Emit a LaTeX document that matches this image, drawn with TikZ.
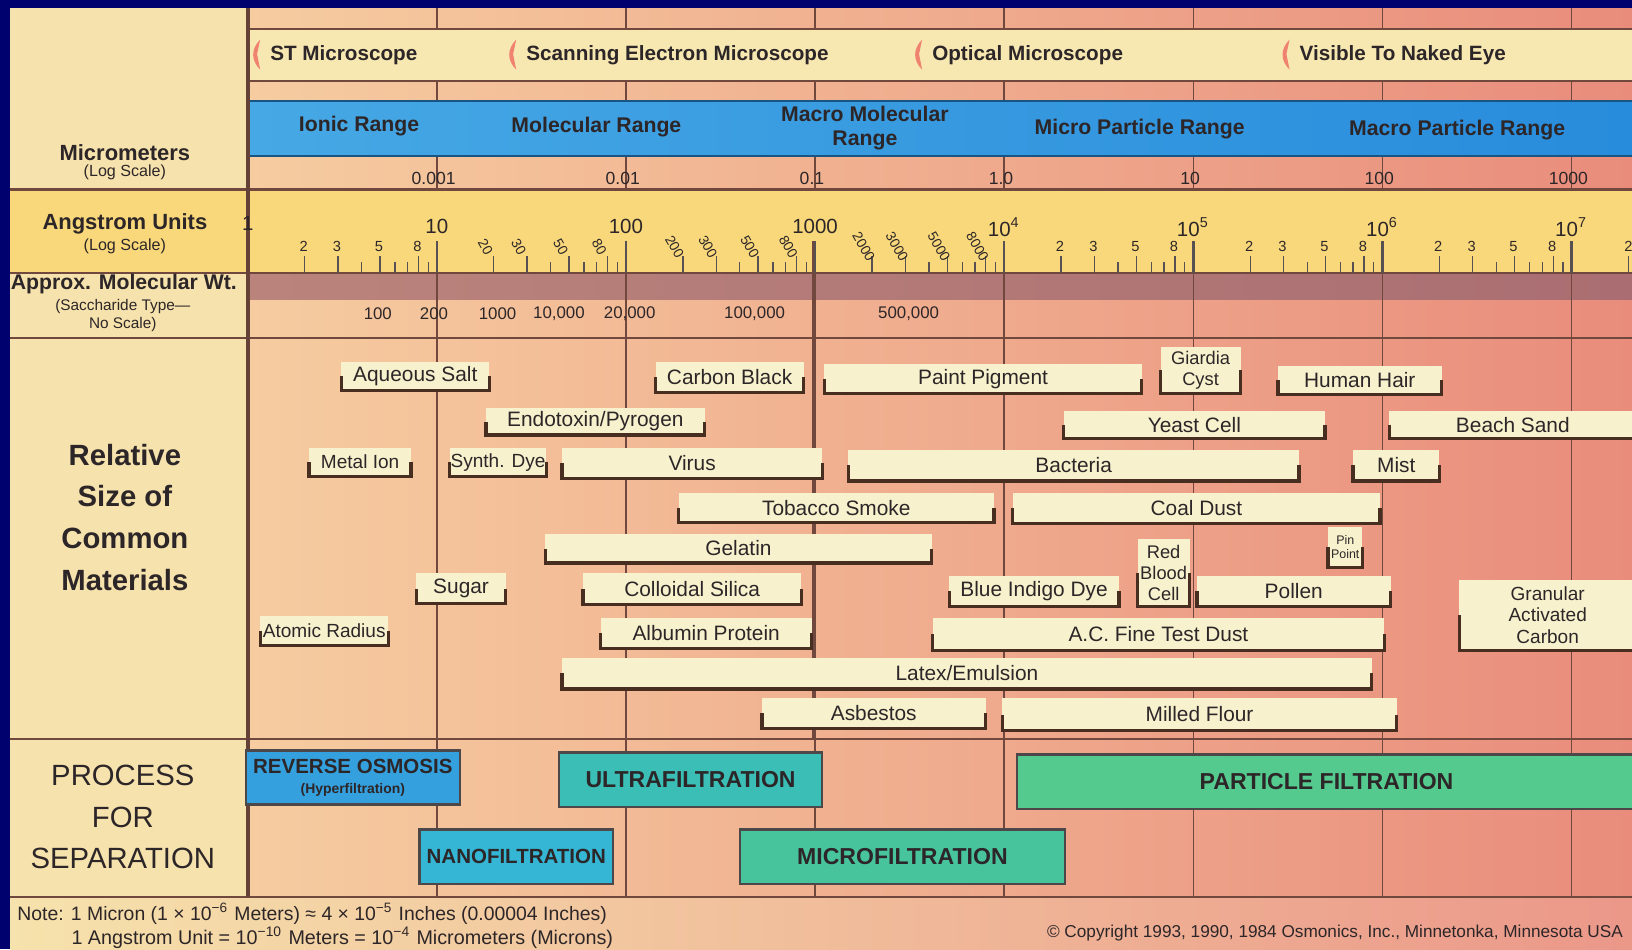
\documentclass[tikz,border=0pt]{standalone}
\usepackage{fontspec}
\setmainfont{Liberation Sans}
\usetikzlibrary{calc}

\definecolor{navyframe}{RGB}{0,0,110}
\definecolor{labelcol}{RGB}{246,226,172}
\definecolor{scopeband}{RGB}{247,232,178}
\definecolor{angrow}{RGB}{248,216,122}
\definecolor{chartleft}{RGB}{246,204,160}
\definecolor{chartright}{RGB}{233,140,124}
\definecolor{mauveleft}{RGB}{186,132,124}
\definecolor{mauveright}{RGB}{170,110,114}
\definecolor{bandleft}{RGB}{70,168,228}
\definecolor{bandright}{RGB}{40,140,220}
\definecolor{gridcol}{RGB}{112,72,62}
\definecolor{cream}{RGB}{247,242,205}
\definecolor{bracketcol}{RGB}{72,46,32}
\definecolor{inkcol}{RGB}{45,38,40}
\definecolor{scopemark}{RGB}{240,130,112}
\definecolor{rocol}{RGB}{52,160,222}
\definecolor{ufcol}{RGB}{58,190,182}
\definecolor{pfcol}{RGB}{84,202,142}
\definecolor{nfcol}{RGB}{52,182,212}
\definecolor{mfcol}{RGB}{72,196,156}

\newcommand{\fsz}[1]{\fontsize{#1}{\fpeval{1.15*#1}}\selectfont}

\tikzset{
  grid/.style={draw=gridcol, line width=0.4pt},
  rule/.style={draw=gridcol, line width=0.6pt},
  tick/.style={draw=inkcol!80, line width=0.35pt},
  bracket/.style={draw=bracketcol, line width=0.9pt},
  mattext/.style={text=inkcol, align=center, inner sep=0pt},
  sidetext/.style={text=inkcol, align=center, inner sep=0pt},
  scopetext/.style={text=inkcol, font=\bfseries\fsz{5.65}, anchor=west, inner sep=0pt},
  rangetext/.style={text=inkcol, font=\bfseries\fsz{5.8}, align=center, inner sep=0pt},
  scaletext/.style={text=inkcol, font=\fsz{4.8}, inner sep=0pt},
  proctext/.style={text=inkcol, align=center, inner sep=0pt},
  procline/.style={draw=inkcol!85, line width=0.6pt},
}

% material box: [font size] name, x1, y1, x2, y2, text
\newcommand{\matbox}[7][5.7]{%
  \fill[cream] (#3,#4) rectangle (#5,#6);
  \draw[bracket] (#3,{(#4+#6)/2}) -- (#3,#6) -- (#5,#6) -- (#5,{(#4+#6)/2});
  \node[mattext, font=\fsz{#1}] (#2) at ({(#3+#5)/2},{(#4+#6)/2}) {#7};}

% process box: [font size] name, x1, y1, x2, y2, colour, text
\newcommand{\procbox}[8][6.3]{%
  \draw[procline, fill=#7] (#3,#4) rectangle (#5,#6);
  \node[proctext, font=\bfseries\fsz{#1}] (#2) at ({(#3+#5)/2},{(#4+#6)/2}) {#8};}

\begin{document}
\begin{tikzpicture}[x=0.01cm, y=-0.01cm]
  %%%%% BACKGROUND %%%%%
  \useasboundingbox (0,0) rectangle (1568,912);
  \fill[navyframe] (0,0) rectangle (1568,912);
  \fill[labelcol] (10,8) rectangle (238,862);
  \shade[left color=chartleft, right color=chartright] (238,8) rectangle (1568,862);
  \shade[left color=labelcol, right color=chartright!90!white] (10,862) rectangle (1568,912);
  \fill[angrow] (10,182) rectangle (1568,262);
  \shade[left color=mauveleft, right color=mauveright] (238,262) rectangle (1568,288);

  %%%%% DECADE LINES %%%%%
  \foreach \d in {1,...,7}{
    \pgfmathsetmacro\xd{238+181.7*\d}
    \draw[grid] (\xd,8) -- (\xd,28);
    \draw[grid] (\xd,78) -- (\xd,97);
    \draw[grid] (\xd,150) -- (\xd,182);
    \draw[grid] (\xd,262) -- (\xd,862);
  }
  \draw[draw=gridcol, line width=1pt] (782,232) -- (782,710);

  %%%%% BANDS %%%%%
  \fill[scopeband] (238,28) rectangle (1568,78);
  \draw[rule] (238,28) -- (1568,28);
  \draw[rule] (238,78) -- (1568,78);
  \shade[left color=bandleft, right color=bandright] (238,97) rectangle (1568,150);
  \draw[draw=bandright!60!black, line width=0.6pt] (238,97) -- (1568,97);
  \draw[draw=bandright!60!black, line width=0.6pt] (238,150) -- (1568,150);

  \foreach \y in {182,262,325,710,862}
    \draw[rule] (10,\y) -- (1568,\y);
  \draw[draw=gridcol!90!black, line width=1pt] (238,8) -- (238,862);

  %%%%% MICROSCOPES %%%%%
  \foreach \x/\txt [count=\i] in {244/ST Microscope, 490/Scanning Electron Microscope,
      880/Optical Microscope, 1233/Visible To Naked Eye}{
    \fill[scopemark] (\x+6,38) .. controls (\x-3,47) and (\x-3,58) .. (\x+6,67) -- (\x+3,52) -- cycle;
    \node[scopetext] (scope\i) at (\x+15,53) {\txt};
  }

  %%%%% RANGES %%%%%
  \node[rangetext] (ionic) at (345,121) {Ionic Range};
  \node[rangetext] (molec) at (573,122) {Molecular Range};
  \node[rangetext] (macromol) at (831,123) {Macro Molecular\\Range};
  \node[rangetext] (microp) at (1095,124) {Micro Particle Range};
  \node[rangetext] (macrop) at (1400,125) {Macro Particle Range};

  %%%%% MICROMETERS %%%%%
  \foreach \d/\txt in {1/0.001,2/0.01,3/0.1,4/1.0,5/10,6/100,7/1000}{
    \pgfmathsetmacro\xd{238+181.7*\d}
    \node[scaletext] (um\d) at (\xd-3,171) {\txt};
  }

  %%%%% ANGSTROM TICKS %%%%%
  \foreach \d in {0,...,6}{
    \foreach \m in {2,...,9}{
      \pgfmathsetmacro\xt{238+181.7*(\d+log10(\m))}
      \draw[tick] (\xt,252) -- (\xt,262);
    }
    \foreach \m in {2,3,5,8}{
      \pgfmathsetmacro\xt{238+181.7*(\d+log10(\m))}
      \draw[tick] (\xt,246) -- (\xt,262);
    }
  }
  \draw[tick] (1564.7,246) -- (1564.7,262);
  \foreach \d/\txt in {1/10,2/100,3/1000,4/{10\textsuperscript{4}},5/{10\textsuperscript{5}},
      6/{10\textsuperscript{6}},7/{10\textsuperscript{7}}}{
    \pgfmathsetmacro\xd{238+181.7*\d}
    \draw[draw=inkcol!80, line width=0.7pt] (\xd,232) -- (\xd,262);
    \node[scaletext, font=\fsz{5.6}] (ang\d) at (\xd,218) {\txt};
  }
  \node[scaletext, font=\fsz{5.6}] (ang0) at (238,215) {1};
  \foreach \d in {0,4,5,6}{
    \foreach \m in {2,3,5,8}{
      \pgfmathsetmacro\xt{238+181.7*(\d+log10(\m))}
      \node[scaletext, font=\fsz{4}] (lab\d\m) at (\xt-1,237) {\m};
    }
  }
  \node[scaletext, font=\fsz{4}] (lab72) at (1564.7,237) {2};
  \foreach \d/\z in {1/0,2/00,3/000}{
    \foreach \m in {2,3,5,8}{
      \pgfmathsetmacro\xt{238+181.7*(\d+log10(\m))}
      \node[scaletext, font=\fsz{3.8}, rotate=-60] (lab\d\m) at (\xt-8,237) {\m\z};
    }
  }

  %%%%% MOLECULAR WEIGHT %%%%%
  \foreach \x/\txt [count=\i] in {363/100,417/200,478/1000,537/{10,000},605/{20,000},
      725/{100,000},873/{500,000}}
    \node[scaletext, font=\fsz{4.6}] (mw\i) at (\x,301) {\txt};

  %%%%% SIDE LABELS %%%%%
  \node[sidetext, font=\bfseries\fsz{6}] (umlab) at (120,147) {Micrometers};
  \node[sidetext, font=\fsz{4.4}] (umlog) at (120,166) {(Log Scale)};
  \node[sidetext, font=\bfseries\fsz{6}] (anglab) at (120,215) {Angstrom Units};
  \node[sidetext, font=\fsz{4.4}] (anglog) at (120,237) {(Log Scale)};
  \node[sidetext, font=\bfseries\fsz{5.8}] (mwlab) at (119,273) {Approx. Molecular Wt.};
  \node[sidetext, font=\fsz{4.2}] (mwsub) at (118,303) {(Saccharide Type—\\No Scale)};
  \node[sidetext, font=\bfseries\fontsize{8}{11.4}\selectfont] (matlab) at (120,497)
    {Relative\\Size of\\Common\\Materials};
  \node[sidetext, font=\fontsize{8}{11.4}\selectfont] (proclab) at (118,785)
    {PROCESS\\FOR\\SEPARATION};

  %%%%% MATERIALS %%%%%
  \matbox{aqsalt}{328}{348}{470}{375}{Aqueous Salt}
  \matbox{carbon}{630}{348}{772}{377}{Carbon Black}
  \matbox{paint}{792}{350}{1097}{378}{Paint Pigment}
  \matbox[5]{giardia}{1115}{333}{1192}{378}{Giardia\\Cyst}
  \matbox{hair}{1228}{352}{1385}{379}{Human Hair}
  \matbox{endo}{467}{392}{677}{418}{Endotoxin/Pyrogen}
  \matbox{yeast}{1022}{395}{1273}{421}{Yeast Cell}
  \matbox{sand}{1335}{395}{1572}{421}{Beach Sand}
  \matbox[5.2]{metal}{297}{430}{395}{458}{Metal Ion}
  \matbox[5.2]{synth}{432}{430}{525}{458}{Synth. Dye}
  \matbox{virus}{540}{430}{790}{460}{Virus}
  \matbox{bact}{815}{432}{1248}{462}{Bacteria}
  \matbox{mist}{1300}{432}{1383}{462}{Mist}
  \matbox{tobacco}{652}{474}{955}{502}{Tobacco Smoke}
  \matbox{coal}{973}{474}{1326}{503}{Coal Dust}
  \matbox{gelatin}{524}{513}{895}{541}{Gelatin}
  \matbox[3.4]{pin}{1276}{506}{1309}{545}{Pin\\Point}
  \matbox{sugar}{400}{551}{486}{580}{Sugar}
  \matbox{silica}{560}{551}{770}{581}{Colloidal Silica}
  \matbox{indigo}{912}{553}{1075}{583}{Blue Indigo Dye}
  \matbox[5]{rbc}{1093}{518}{1143}{583}{Red\\Blood\\Cell}
  \matbox{pollen}{1150}{553}{1336}{583}{Pollen}
  \matbox[5.2]{gac}{1402}{557}{1572}{625}{Granular\\Activated\\Carbon}
  \matbox[5.2]{atomic}{250}{592}{373}{620}{Atomic Radius}
  \matbox{albumin}{577}{594}{780}{623}{Albumin Protein}
  \matbox{acdust}{896}{594}{1330}{625}{A.C. Fine Test Dust}
  \matbox{latex}{540}{632}{1318}{662}{Latex/Emulsion}
  \matbox{asbestos}{732}{671}{947}{700}{Asbestos}
  \matbox{flour}{963}{671}{1342}{702}{Milled Flour}

  %%%%% PROCESSES %%%%%
  \procbox[5.6]{ro}{236}{721}{442}{773}{rocol}{REVERSE OSMOSIS\\[-1pt]{\fsz{3.8}(Hyperfiltration)}}
  \procbox{uf}{537}{723}{790}{775}{ufcol}{ULTRAFILTRATION}
  \procbox{pf}{977}{725}{1572}{777}{pfcol}{PARTICLE FILTRATION}
  \procbox[5.6]{nf}{403}{797}{589}{849}{nfcol}{NANOFILTRATION}
  \procbox{mf}{711}{797}{1023}{849}{mfcol}{MICROFILTRATION}

  %%%%% NOTES %%%%%
  \node[scaletext, anchor=west, font=\fsz{5.3}] (note1) at (16,878)
    {Note: 1 Micron (1 × 10\textsuperscript{−6} Meters) ≈ 4 × 10\textsuperscript{−5} Inches (0.00004 Inches)};
  \node[scaletext, anchor=west, font=\fsz{5.4}] (note2) at (68,901)
    {1 Angstrom Unit = 10\textsuperscript{−10} Meters = 10\textsuperscript{−4} Micrometers (Microns)};
  \node[scaletext, anchor=east, font=\fsz{4.7}] (copy) at (1560,896)
    {© Copyright 1993, 1990, 1984 Osmonics, Inc., Minnetonka, Minnesota USA};
\end{tikzpicture}
\end{document}
